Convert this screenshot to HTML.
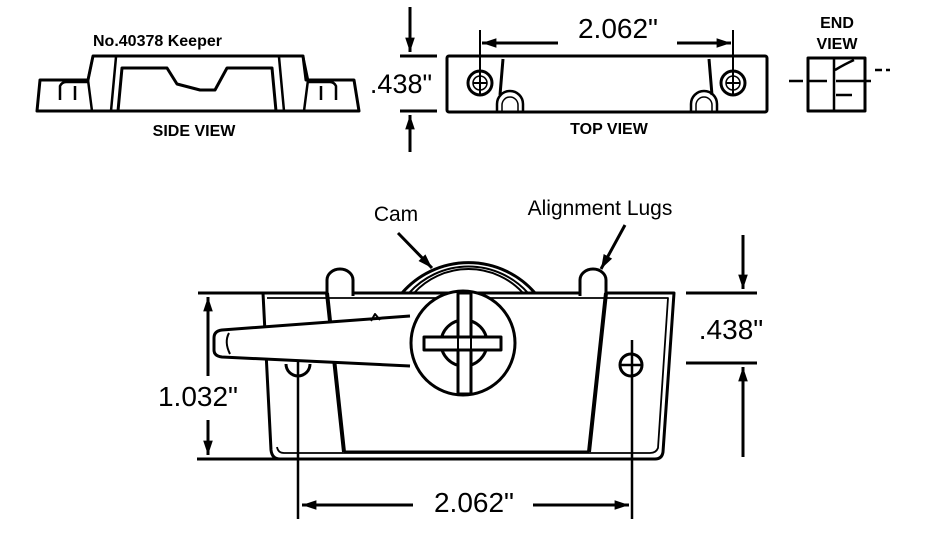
<!DOCTYPE html>
<html><head><meta charset="utf-8"><style>
html,body{margin:0;padding:0;background:#fff;}
svg{display:block;}
text{font-family:"Liberation Sans",sans-serif;fill:#000;}
.b{font-weight:bold;}
</style></head><body>
<svg width="934" height="544" viewBox="0 0 934 544" xmlns="http://www.w3.org/2000/svg">
<defs>
<marker id="ar" viewBox="0 0 12 10" refX="12" refY="5" markerWidth="6" markerHeight="4" orient="auto-start-reverse" markerUnits="strokeWidth"><path d="M0,1 L12,5 L0,9 z" fill="#000"/></marker>
</defs>
<g fill="none" stroke="#000" stroke-width="3" stroke-linejoin="round">
<!-- SIDE VIEW -->
<path d="M37,111 L359,111 L354,80 L306,80 L303,56 L93,56 L88,80 L40,80 Z"/>
<path d="M111,111 L116,57 M284,111 L279,57" stroke-width="2.5"/>
<path d="M118,111 L122,68 L167,68 L177,84 L200,90 L215,90 L227,68 L272,68 L276,111"/>
<path d="M93,56 L88,80 L92,111 M303,56 L308,80 L304,111" stroke-width="2.5"/>
<path d="M60,100 L60,86 Q62,82 66,82 L88,82 M75,86 L75,100 M336,100 L336,86 Q334,82 330,82 L308,82 M321,86 L321,100" stroke-width="2.5"/>
<path d="M410,7 L410,52" marker-end="url(#ar)"/>
<path d="M410,152 L410,115" marker-end="url(#ar)"/>
<path d="M400,56 L437,56 M400,111 L437,111"/>
<!-- TOP VIEW -->
<rect x="447" y="56" width="320" height="56" rx="2"/>
<path d="M503,59 L500,95 M709,59 L712,95" stroke-width="3"/>
<path d="M497,112 L497,104 A13,13 0 0 1 523,104 L523,112 M691,112 L691,104 A13,13 0 0 1 717,104 L717,112" stroke-width="2.5"/>
<path d="M502,112 L502,105 A8,8 0 0 1 518,105 L518,112 M696,112 L696,105 A8,8 0 0 1 712,105 L712,112" stroke-width="1.5"/>
<circle cx="480" cy="83" r="12"/><circle cx="480" cy="83" r="7" stroke-width="1.5"/>
<circle cx="733" cy="83" r="12"/><circle cx="733" cy="83" r="7" stroke-width="1.5"/>
<path d="M480,30 L480,95 M733,30 L733,95 M473,83 L487,83 M726,83 L740,83" stroke-width="2"/>
<path d="M558,43 L482,43" marker-end="url(#ar)"/>
<path d="M677,43 L731,43" marker-end="url(#ar)"/>
<!-- END VIEW -->
<rect x="808" y="58" width="57" height="53"/>
<path d="M834,58 L834,111 M789,81 L803,81 M809,81 L827,81 M836,81 L871,81 M835,70 Q845,64 854,60 M836,95 L852,95 M875,70 L882,70 M886,70 L890,70" stroke-width="2.5"/>
<!-- MAIN -->
<path d="M402,293 A88,88 0 0 1 535,293" stroke-width="3"/>
<path d="M409,293 A80,80 0 0 1 528,293" stroke-width="2"/>
<path d="M414,293 A74,74 0 0 1 523,293" stroke-width="2"/>
<path d="M263,293 L674,293 L663,452 Q662,459 655,459 L280,459 Q272,459 271,450 Z" fill="#fff"/>
<path d="M267,298 L668,298 L658,448 Q656,453 650,453 L284,453 Q278,453 277,447" stroke-width="1.8"/>
<!-- lugs -->
<path d="M327,296 L327,280 A13,11 0 0 1 353,280 L353,296" fill="#fff"/>
<path d="M580,296 L580,280 A13,11 0 0 1 606,280 L606,296" fill="#fff"/>
<path d="M329,293 L351,293 M582,293 L604,293" stroke="#fff" stroke-width="3"/>
<path d="M353,293 L580,293"/>
<path d="M327,293 L344,452 M606,293 L589,452" stroke-width="4"/>
<path d="M344,452 L589,452" stroke-width="3"/>
<!-- handle -->
<path d="M410,316 L222,330 Q214,331 214,338 L214,350 Q214,356 222,357 L410,366" fill="#fff"/>
<path d="M229,333 Q224,342 230,354" stroke-width="2"/>
<path d="M371,321 L375,314 L380,320" stroke-width="2"/>
<circle cx="463" cy="343" r="52" fill="#fff"/>
<circle cx="464" cy="343" r="23"/>
<rect x="458" y="293" width="13" height="101" fill="#fff"/>
<rect x="424" y="337" width="77" height="13" fill="#fff"/>
<path d="M458,337 L458,350 M471,337 L471,350" stroke-width="2"/>
<path d="M286,364 A12,12 0 0 0 310,364" />
<circle cx="631" cy="365" r="11"/>
<path d="M298,360 L298,519 M632,340 L632,519 M620,365 L643,365" stroke-width="2.5"/>
<path d="M198,293 L265,293 M197,459 L290,459"/>
<path d="M208,376 L208,297" marker-end="url(#ar)"/>
<path d="M208,420 L208,455" marker-end="url(#ar)"/>
<path d="M686,293 L757,293 M686,363 L757,363"/>
<path d="M743,235 L743,289" marker-end="url(#ar)"/>
<path d="M743,457 L743,367" marker-end="url(#ar)"/>
<path d="M413,505 L302,505" marker-end="url(#ar)"/>
<path d="M533,505 L629,505" marker-end="url(#ar)"/>
<path d="M398,233 L432,268" marker-end="url(#ar)"/>
<path d="M625,225 L601,269" marker-end="url(#ar)"/>
</g>
<text x="93" y="46" class="b" font-size="16">No.40378 Keeper</text>
<text x="194" y="136" class="b" font-size="16" text-anchor="middle">SIDE VIEW</text>
<text x="609" y="134" class="b" font-size="16" text-anchor="middle">TOP VIEW</text>
<text x="837" y="28" class="b" font-size="16" text-anchor="middle">END</text>
<text x="837" y="49" class="b" font-size="16" text-anchor="middle">VIEW</text>
<text x="401" y="93" font-size="27" text-anchor="middle">.438"</text>
<text x="618" y="38" font-size="28" text-anchor="middle">2.062"</text>
<text x="396" y="221" font-size="21" text-anchor="middle">Cam</text>
<text x="600" y="215" font-size="21" text-anchor="middle">Alignment Lugs</text>
<text x="198" y="406" font-size="28" text-anchor="middle">1.032"</text>
<text x="731" y="339" font-size="28" text-anchor="middle">.438"</text>
<text x="474" y="512" font-size="28" text-anchor="middle">2.062"</text>
</svg>
</body></html>
